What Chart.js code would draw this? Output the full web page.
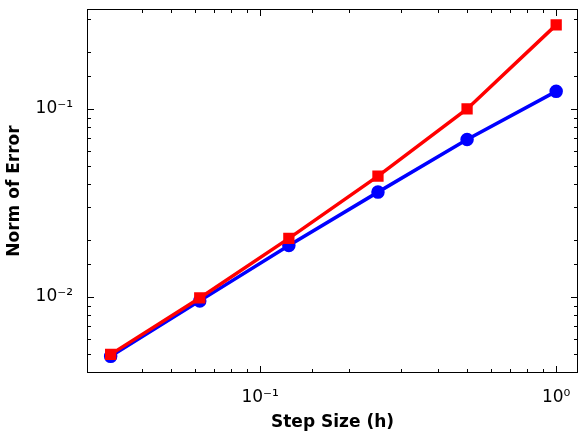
<!DOCTYPE html>
<html><head><meta charset="utf-8">
<script src="https://cdn.jsdelivr.net/npm/chart.js@4"></script>
<style>html,body{margin:0;padding:0;background:#fff}#w{width:587px;height:437px}</style>
</head><body><div id="w"><canvas id="c"></canvas></div>
<script>
const stepSizes = [1/32, 1/16, 1/8, 1/4, 1/2, 1];
const redErrors = [0.00495, 0.00988, 0.0205, 0.0439, 0.100, 0.280];
const blueErrors = [0.00483, 0.00953, 0.0188, 0.0361, 0.0687, 0.124];
const xRange = [0.026, 1.185];
const yRange = [0.00394, 0.34];
const sup = {'-':'⁻','0':'⁰','1':'¹','2':'²','3':'³'};
function pow10Label(v){
  const e = Math.log10(v);
  if (Math.abs(e - Math.round(e)) > 1e-9) return '';
  return '10' + String(Math.round(e)).split('').map(c=>sup[c]).join('');
}
const frame = {
  id:'frame',
  afterDraw(ch){
    const {ctx, chartArea:a, scales:{x,y}} = ch;
    ctx.save(); ctx.strokeStyle='#000'; ctx.lineWidth=1;
    ctx.strokeRect(a.left+0.5,a.top+0.5,a.right-a.left-1,a.bottom-a.top-1);
    const tk = (sc, horiz) => {
      sc.ticks.forEach(t=>{
        const v=t.value, major = pow10Label(v)!=='';
        const L = major?7:4;
        const p = Math.round(sc.getPixelForValue(v))+0.5;
        if (horiz){ if(p<a.left||p>a.right) return;
          ctx.beginPath(); ctx.moveTo(p,a.bottom); ctx.lineTo(p,a.bottom-L);
          ctx.moveTo(p,a.top); ctx.lineTo(p,a.top+L); ctx.stroke();
        } else { if(p<a.top||p>a.bottom) return;
          ctx.beginPath(); ctx.moveTo(a.left,p); ctx.lineTo(a.left+L,p);
          ctx.moveTo(a.right,p); ctx.lineTo(a.right-L,p); ctx.stroke();
        }
      });
    };
    tk(x,true); tk(y,false);
    ctx.restore();
  }
};
new Chart(document.getElementById('c'), {
  type:'line',
  data:{datasets:[
    {data:stepSizes.map((h,i)=>({x:h,y:redErrors[i]})), borderColor:'#ff0000', backgroundColor:'#ff0000',
     borderWidth:3.5, pointStyle:'rect', pointRadius:5.5, pointHoverRadius:5.5},
    {data:stepSizes.map((h,i)=>({x:h,y:blueErrors[i]})), borderColor:'#0000ff', backgroundColor:'#0000ff',
     borderWidth:3.5, pointStyle:'circle', pointRadius:5, pointHoverRadius:5}
  ]},
  plugins:[frame],
  options:{
    responsive:true, maintainAspectRatio:false, animation:false,
    layout:{padding:{top:5,right:4,left:0,bottom:0}},
    plugins:{legend:{display:false},tooltip:{enabled:false}},
    scales:{
      x:{type:'logarithmic', min:xRange[0], max:xRange[1],
        grid:{display:false}, border:{display:false},
        ticks:{autoSkip:false, maxRotation:0, color:'#000', font:{family:'DejaVu Sans',size:17}, padding:6, callback:v=>pow10Label(v)},
        title:{display:true,text:'Step Size (h)',color:'#000',font:{family:'DejaVu Sans',size:17,weight:'bold'},padding:{top:0}},
        afterFit(s){s.height=64; s.paddingLeft=0; s.paddingRight=0;}
      },
      y:{type:'logarithmic', min:yRange[0], max:yRange[1],
        grid:{display:false}, border:{display:false},
        ticks:{autoSkip:false, color:'#000', font:{family:'DejaVu Sans',size:17}, padding:6, callback:v=>pow10Label(v)},
        title:{display:true,text:'Norm of Error',color:'#000',font:{family:'DejaVu Sans',size:17,weight:'bold'},padding:{bottom:2}},
        afterFit(s){s.width=87; s.paddingTop=0; s.paddingBottom=0;}
      }
    }
  }
});
</script></body></html>
